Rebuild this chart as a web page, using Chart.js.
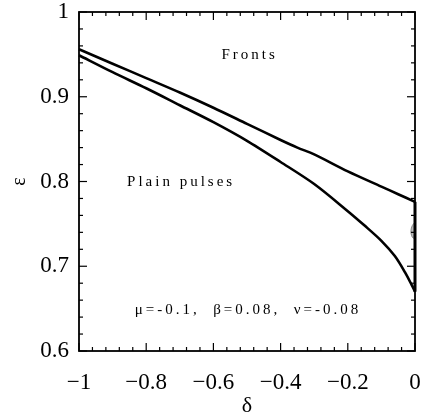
<!DOCTYPE html>
<html>
<head>
<meta charset="utf-8">
<script src="https://cdn.jsdelivr.net/npm/chart.js@4/dist/chart.umd.min.js"></script>
<style>
  html, body { margin: 0; padding: 0; background: #fff; }
  #wrap { width: 427px; height: 414px; position: relative; }
</style>
</head>
<body>
<div id="wrap"><canvas id="c" width="427" height="414"></canvas></div>
<script>
// ---- data ----
const upperX = [-1, -0.9, -0.8, -0.7, -0.6, -0.5, -0.4, -0.35, -0.3, -0.2, -0.1, -0.05, 0];
const upperY = [0.956, 0.939, 0.922, 0.905, 0.887, 0.868, 0.849, 0.840, 0.832, 0.812, 0.794, 0.785, 0.776];
const lowerX = [-1, -0.9, -0.8, -0.7, -0.6, -0.5, -0.4, -0.3, -0.2, -0.15, -0.1, -0.06, -0.03, -0.01, 0];
const lowerY = [0.949, 0.929, 0.910, 0.890, 0.870, 0.848, 0.823, 0.797, 0.765, 0.748, 0.730, 0.712, 0.693, 0.678, 0.670];
const edgeX = [0, 0];
const edgeY = [0.670, 0.776];
const blobX = [-0.002, -0.008, -0.012, -0.010, -0.004, -0.001];
const blobY = [0.751, 0.748, 0.742, 0.736, 0.733, 0.740];
const xTicks = [-1, -0.8, -0.6, -0.4, -0.2, 0];
const yTicks = [0.6, 0.7, 0.8, 0.9, 1];
const labelTexts = ['Fronts', 'Plain pulses', 'μ=-0.1,  β=0.08,  ν=-0.08'];
const labelX = [-0.492, -0.696, -0.497];
const labelY = [0.949, 0.799, 0.648];

const pts = (xs, ys) => xs.map((x, i) => ({x: x, y: ys[i]}));
const SERIF = '"Liberation Serif", "DejaVu Serif", serif';

function fmt(v) {
  if (Math.abs(v) < 1e-9) return '0';
  const a = Math.abs(v);
  const s = (Math.round(a * 10) / 10).toString();
  return v < 0 ? '\u2212' + s : s;
}

const decor = {
  id: 'decor',
  afterDatasetsDraw(chart) {
    const ctx = chart.ctx, xs = chart.scales.x, ys = chart.scales.y;
    const a = chart.chartArea;
    ctx.save();
    ctx.strokeStyle = '#000';
    ctx.lineWidth = 1.2;
    const tick = (x1, y1, x2, y2) => { ctx.beginPath(); ctx.moveTo(x1, y1); ctx.lineTo(x2, y2); ctx.stroke(); };
    for (let i = 0; i <= 25; i++) {
      const v = -1 + i * 0.04;
      const px = xs.getPixelForValue(v);
      const len = (i % 5 === 0) ? 8 : 4;
      tick(px, a.bottom, px, a.bottom - len);
      tick(px, a.top, px, a.top + len);
    }
    for (let i = 0; i <= 20; i++) {
      const v = 0.6 + i * 0.02;
      const py = ys.getPixelForValue(v);
      const len = (i % 5 === 0) ? 8 : 4;
      tick(a.left, py, a.left + len, py);
      tick(a.right, py, a.right - len, py);
    }
    ctx.lineWidth = 1.8;
    ctx.strokeRect(a.left, a.top, a.right - a.left, a.bottom - a.top);
    ctx.fillStyle = '#000';
    ctx.textAlign = 'center';
    ctx.textBaseline = 'middle';
    ctx.font = '15px ' + SERIF;
    ctx.letterSpacing = '3px';
    for (let i = 0; i < labelTexts.length; i++) {
      ctx.fillText(labelTexts[i], xs.getPixelForValue(labelX[i]), ys.getPixelForValue(labelY[i]));
    }
    ctx.restore();
  }
};

new Chart(document.getElementById('c'), {
  type: 'scatter',
  data: {
    datasets: [
      { data: pts(upperX, upperY), showLine: true, borderColor: '#000', borderWidth: 2.6, pointRadius: 0, tension: 0.3, fill: false },
      { data: pts(lowerX, lowerY), showLine: true, borderColor: '#000', borderWidth: 2.6, pointRadius: 0, tension: 0.3, fill: false },
      { data: pts(edgeX, edgeY), showLine: true, borderColor: '#000', borderWidth: 3, pointRadius: 0, fill: false },
      { data: pts(blobX, blobY), showLine: true, borderColor: '#888', borderWidth: 1, backgroundColor: '#bbb', pointRadius: 0, tension: 0.4, fill: 'shape' }
    ]
  },
  plugins: [decor],
  options: {
    responsive: false,
    animation: false,
    clip: false,
    layout: { padding: { top: 12, right: 12, left: 0, bottom: 0 } },
    plugins: { legend: { display: false }, tooltip: { enabled: false } },
    scales: {
      x: {
        type: 'linear', min: -1, max: 0,
        afterBuildTicks: (s) => { s.ticks = xTicks.map(v => ({value: v})); },
        afterFit: (s) => { s.height = 63; s.paddingLeft = 0; s.paddingRight = 0; },
        grid: { display: false, drawTicks: false },
        border: { display: false },
        ticks: { color: '#000', padding: 18, maxRotation: 0, font: { family: SERIF, size: 23 }, callback: (v) => fmt(v) },
        title: { display: true, text: 'δ', color: '#000', padding: { top: 0, bottom: -3 }, font: { family: SERIF, size: 22, lineHeight: 1 } }
      },
      y: {
        type: 'linear', min: 0.6, max: 1,
        afterBuildTicks: (s) => { s.ticks = yTicks.map(v => ({value: v})); },
        afterFit: (s) => { s.width = 79; s.paddingTop = 0; s.paddingBottom = 0; },
        grid: { display: false, drawTicks: false },
        border: { display: false },
        ticks: { color: '#000', padding: 10, font: { family: SERIF, size: 23 }, callback: (v) => fmt(v) },
        title: { display: true, text: 'ε', color: '#000', padding: { top: 8, bottom: 0 }, font: { family: SERIF, size: 20 } }
      }
    }
  }
});
</script>
</body>
</html>
